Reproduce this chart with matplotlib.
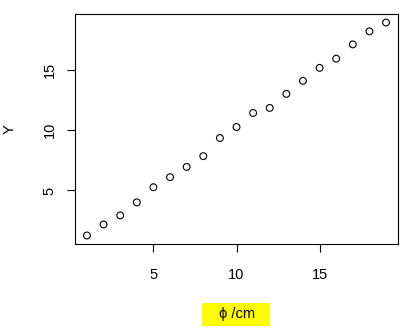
import numpy as np
import matplotlib
matplotlib.use("Agg")
import matplotlib.pyplot as plt
from matplotlib.patches import Rectangle

plt.rcParams['font.family'] = ['Liberation Sans', 'DejaVu Sans']

# --- data ---
x_vals = list(range(1, 20))
y_vals = [1.28, 2.19, 2.94, 4.02, 5.27, 6.10, 6.95, 7.84, 9.34, 10.25,
          11.41, 11.83, 12.99, 14.07, 15.14, 15.90, 17.08, 18.16, 18.89]
x_ticks = [5, 10, 15]
y_ticks = [5, 10, 15]
x_label = "ϕ /cm"
y_label = "Y"

W, H = 419, 331
fig = plt.figure(figsize=(W / 100, H / 100), dpi=100)
ax = fig.add_axes([75 / W, 1 - 244 / H, (398 - 75) / W, (244 - 14) / H])

ax.scatter(x_vals, y_vals, s=24, facecolors='none', edgecolors='black',
           linewidths=0.8, zorder=3)

# R style 4% padding around the data range
def padded(v):
    lo, hi = min(v), max(v)
    d = (hi - lo) * 0.04
    return lo - d, hi + d

ax.set_xlim(*padded(x_vals))
ax.set_ylim(*padded(y_vals))
ax.set_xticks(x_ticks)
ax.set_yticks(y_ticks)
ax.tick_params(axis='both', length=6, width=0.8, labelsize=10.5, color='black')
ax.tick_params(axis='x', pad=11)
ax.tick_params(axis='y', pad=7)
for lab in ax.get_yticklabels():
    lab.set_rotation(90)
    lab.set_va('center')
for sp in ax.spines.values():
    sp.set_linewidth(0.8)

ax.set_ylabel(y_label, fontsize=10.5, va='center')
ax.yaxis.set_label_coords(-65 / 323, 0.5)

# yellow box behind x label
fig.add_artist(Rectangle((202 / W, 1 - 326 / H), 68 / W, 23 / H,
                         transform=fig.transFigure, facecolor='yellow',
                         edgecolor='none'))
fig.text(237 / W, 1 - 314 / H, x_label, fontsize=10.5, ha='center', va='center')

fig.savefig("out.png", dpi=100)
